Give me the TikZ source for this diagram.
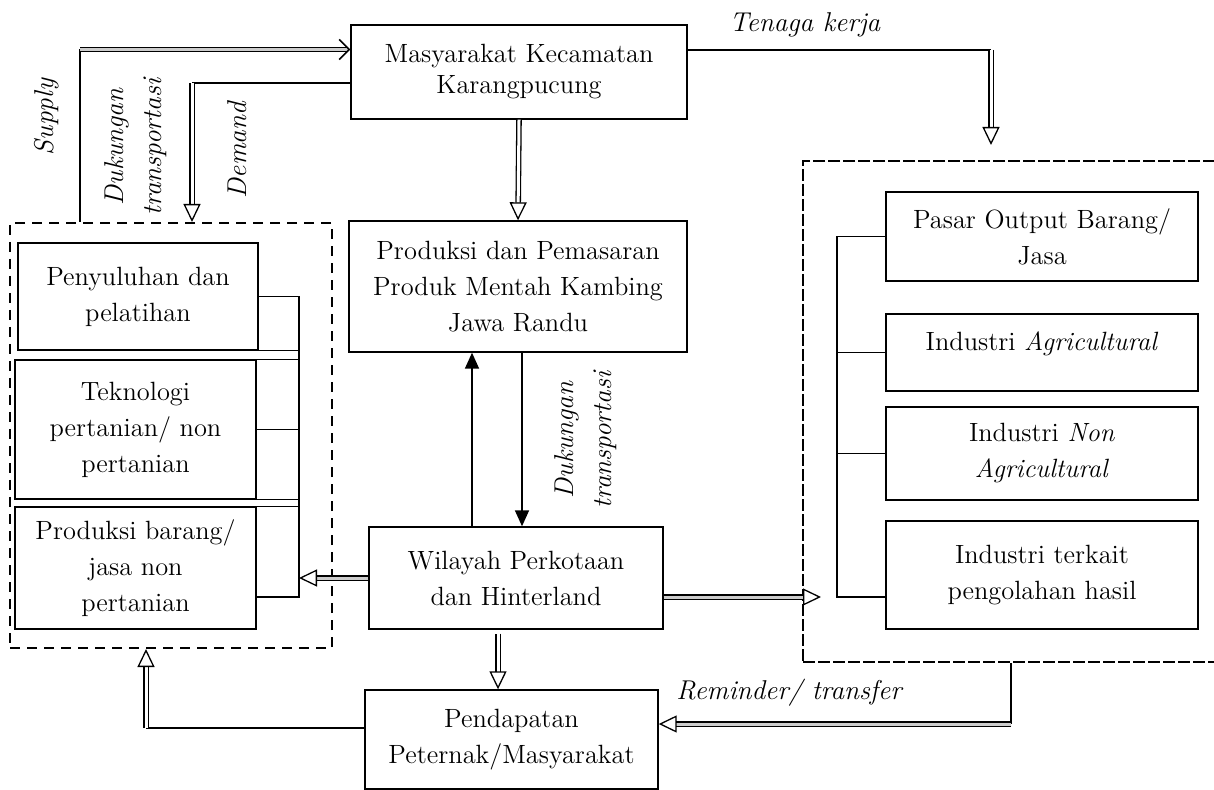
\documentclass[tikz,border=0pt]{standalone}
\usetikzlibrary{arrows.meta}

\begin{document}
\begin{tikzpicture}[x=0.5pt, y=-0.5pt,
    box/.style={draw, line width=0.7pt, align=center, inner sep=0pt, font=\fontsize{13.2}{18}\selectfont},
    grp/.style={draw, line width=1pt, dash pattern=on 5pt off 3.5pt, inner sep=0pt},
    link/.style={line width=0.7pt},
    lbl/.style={font=\fontsize{13.6}{19}\selectfont\itshape, align=center, inner sep=0pt},
    dbl/.style={double, double distance=1.5pt, line width=0.65pt, -{Triangle[open, length=9pt, width=8.5pt, line width=0.65pt]}},
    dblh/.style={dbl, double=gray!40},
    dblbarb/.style={double, double=gray!40, double distance=1.5pt, line width=0.65pt, -{Straight Barb[length=5pt, width=10pt, line width=0.8pt]}},
    solidarr/.style={line width=0.8pt, -{Triangle[length=8pt, width=7pt]}}]

    \useasboundingbox (0,0) rectangle (1214,790);

    % Turning points of the connectors
    \coordinate (lb) at (299,0);        % left bracket
    \coordinate (lbend) at (299,597);
    \coordinate (rb) at (837,0);        % right bracket
    \coordinate (rbend) at (837,597);
    \coordinate (rtip) at (821,597);
    \coordinate (supturn) at (80,49.5);
    \coordinate (demturn) at (192,83);
    \coordinate (tkturn) at (991,50);
    \coordinate (tktip) at (991,145);
    \coordinate (remturn) at (1011,724);
    \coordinate (pendturn) at (146,728);
    \coordinate (upx) at (472,0);
    \coordinate (dnx) at (522,0);
    \coordinate (wpx) at (498,0);

    % Dashed groups
    \node[grp, minimum width=161pt, minimum height=212.5pt] (leftgrp) at (171,435.5) {};
    \node[grp, dash pattern=on 6pt off 1.5pt, minimum width=206.5pt, minimum height=250.5pt] (rightgrp) at (1009.5,411.5) {};

    % Main boxes
    \node[box, font=\fontsize{13.2}{15.5}\selectfont, minimum width=168pt, minimum height=47pt] (masy) at (519,72)
        {Masyarakat Kecamatan\\Karangpucung};
    \node[box, minimum width=169pt, minimum height=65.5pt] (prod) at (518,286.5)
        {Produksi dan Pemasaran\\Produk Mentah Kambing\\Jawa Randu};
    \node[box, minimum width=147pt, minimum height=51pt] (wil) at (516,578)
        {Wilayah Perkotaan\\dan Hinterland};
    \node[box, minimum width=146.5pt, minimum height=49.5pt] (pend) at (511.5,739.5)
        {Pendapatan\\Peternak/Masyarakat};

    % Left group boxes
    \node[box, minimum width=120pt, minimum height=53.5pt] (peny) at (138,296.5)
        {Penyuluhan dan\\pelatihan};
    \node[box, minimum width=120.5pt, minimum height=69.5pt] (tekno) at (135.5,429.5)
        {Teknologi\\pertanian/ non\\pertanian};
    \node[box, minimum width=120.5pt, minimum height=61pt] (prodbrg) at (135.5,568)
        {Produksi barang/\\jasa non\\pertanian};

    % Right group boxes
    \node[box, minimum width=156pt, minimum height=44.5pt] (pasar) at (1042,236.5)
        {Pasar Output Barang/\\Jasa};
    \node[box, minimum width=156pt, minimum height=38.5pt] (agri) at (1042,352.5)
        {Industri \textit{Agricultural}\\[-7pt]\mbox{}};
    \node[box, minimum width=156pt, minimum height=46.5pt] (nonagri) at (1042,453.5)
        {Industri \textit{Non}\\\textit{Agricultural}};
    \node[box, minimum width=156pt, minimum height=54pt] (olah) at (1042,575)
        {Industri terkait\\pengolahan hasil};

    % Left bracket
    \draw[link] (peny.east) -- (peny.east -| lb) -- (lbend) -- (lbend -| prodbrg.east);
    \draw[link] (peny.south east) -- (peny.south east -| lb);
    \draw[link] (tekno.north east) -- (tekno.north east -| lb);
    \draw[link] (tekno.east) -- (tekno.east -| lb);
    \draw[link] (tekno.south east) -- (tekno.south east -| lb);
    \draw[link] (prodbrg.north east) -- (prodbrg.north east -| lb);

    % Right bracket
    \draw[link] (pasar.west) -- (pasar.west -| rb) -- (rbend) -- (rbend -| olah.west);
    \draw[link] (agri.west) -- (agri.west -| rb);
    \draw[link] (nonagri.west) -- (nonagri.west -| rb);

    % Supply and demand
    \draw[link] (leftgrp.north -| supturn) -- (supturn);
    \draw[dblbarb] (supturn) -- (supturn -| masy.west);
    \draw[link] (masy.west |- demturn) -- (demturn);
    \draw[dbl] (demturn) -- (demturn |- leftgrp.north);

    % Tenaga kerja
    \draw[link] (masy.east |- tkturn) -- (tkturn);
    \draw[dbl] (tkturn) -- (tktip);

    % Flows between the main boxes
    \draw[dbl] (masy.south) -- (prod.north);
    \draw[solidarr] (wil.north -| upx) -- (prod.south -| upx);
    \draw[solidarr] (prod.south -| dnx) -- (wil.north -| dnx);
    \draw[dbl, shorten <=2pt] (wil.south -| wpx) -- (pend.north -| wpx);
    \draw[dblh] (wil.west) -- (wil.west -| lb);
    \draw[dblh] (wil.east |- rtip) -- (rtip);

    % Reminder and income back to the left group
    \draw[link] (rightgrp.south -| remturn) -- (remturn);
    \draw[dblh] (remturn) -- (remturn -| pend.east);
    \draw[link] (pendturn -| pend.west) -- (pendturn);
    \draw[dbl] (pendturn) -- (pendturn |- leftgrp.south);

    % Labels
    \node[lbl, rotate=90] (lsupply) at (47,117) {Supply};
    \node[lbl, rotate=90] (ldukung) at (136,147) {Dukungan\\transportasi};
    \node[lbl, rotate=90] (ldemand) at (237,150) {Demand};
    \node[lbl, rotate=90] (ldukmid) at (586,440) {Dukungan\\transportasi};
    \node[lbl] (ltenaga) at (805,25) {Tenaga kerja};
    \node[lbl] (lremind) at (789,693) {Reminder/ transfer};
\end{tikzpicture}
\end{document}
